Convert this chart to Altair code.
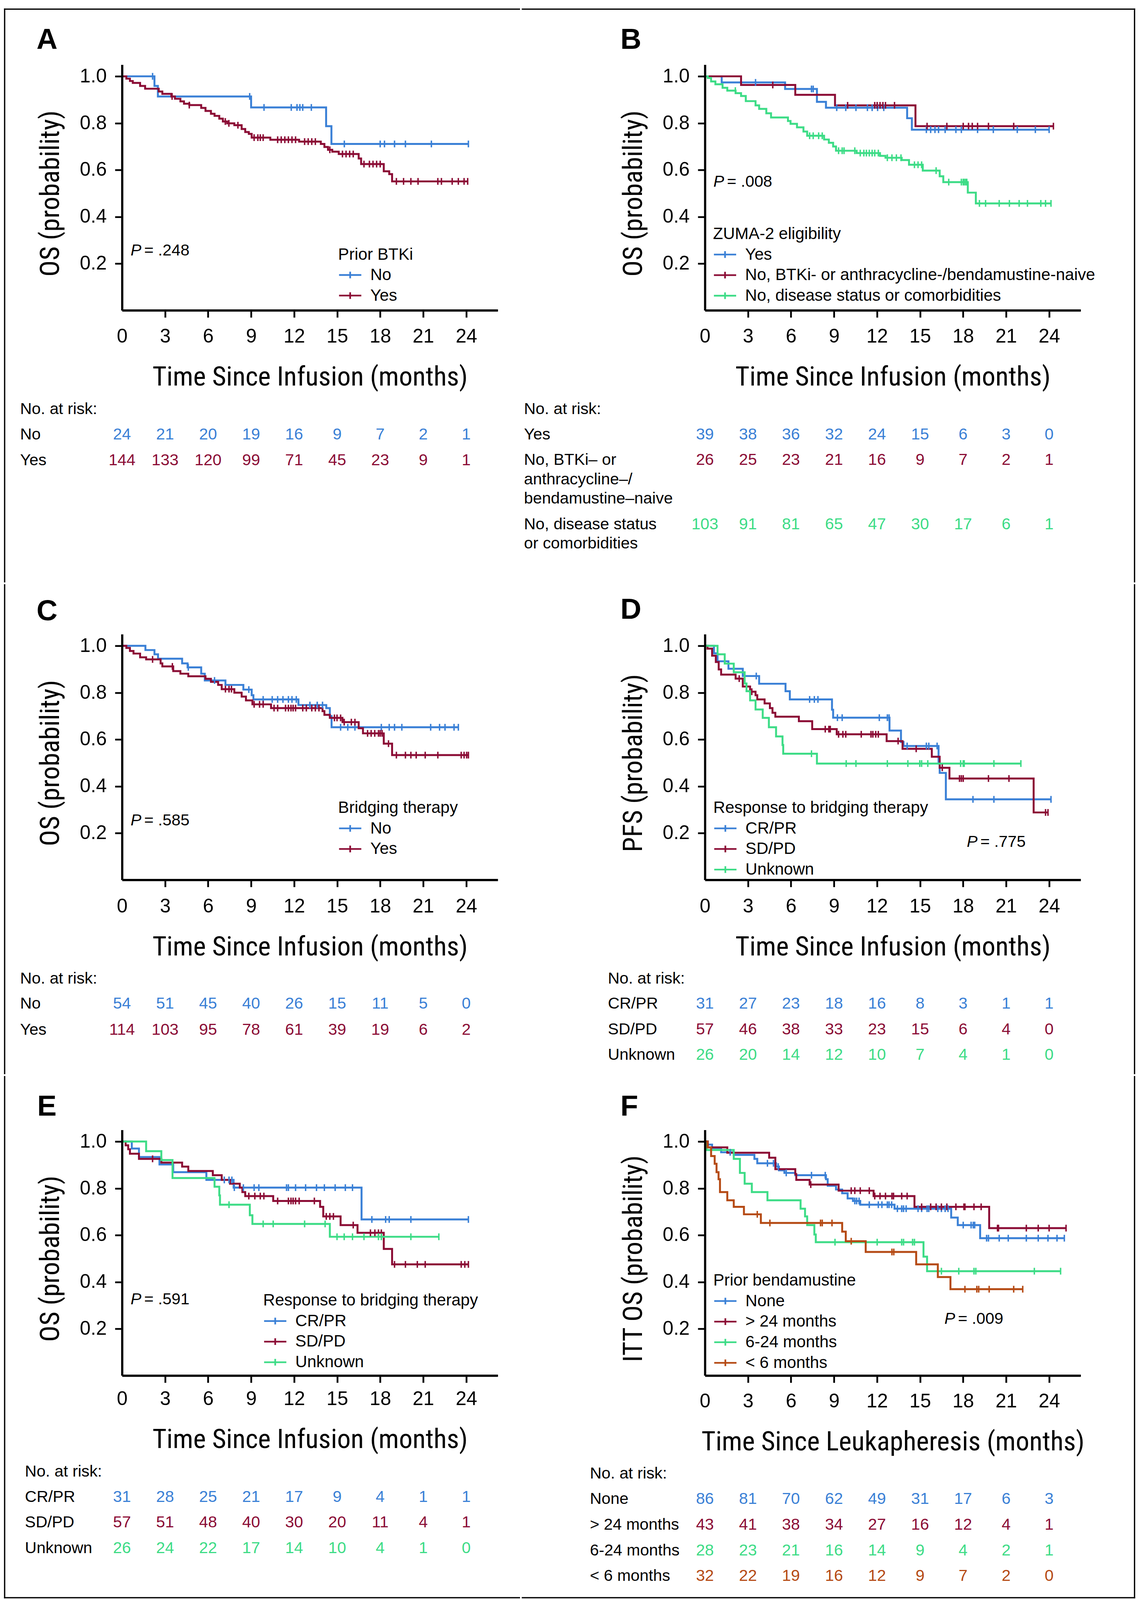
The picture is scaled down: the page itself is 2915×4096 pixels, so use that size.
import altair as alt
import pandas as pd

S = 0.830            # output px per reference px
W, H = 1165, 762     # plot area in reference px
XMAX, YMAX = 26.2, 1.05

BLUE, RED, GREEN, ORANGE = "#3a80d6", "#8b0c35", "#3ddc86", "#b54a14"
SANS = "Liberation Sans"
TFONT = "'Roboto Condensed', 'Liberation Sans'"
TFS = 84            # axis-title font size (reference px)
RFS = 50            # risk-table font size
LFS = 51            # legend font size

MONTHS = [0, 3, 6, 9, 12, 15, 18, 21, 24]
Y_TICKS = [0.2, 0.4, 0.6, 0.8, 1.0]

# ---------------- Panel A : prior BTKi ----------------
A_NO_T = [2.26, 2.50, 9.00, 14.23, 14.60]
A_NO_S = [0.959, 0.914, 0.867, 0.787, 0.711]
A_NO_C = [2.13, 8.90, 9.90, 11.80, 12.20, 12.40, 12.60, 13.20, 15.50, 18.00, 18.30, 19.00, 19.76, 21.57, 24.15]
A_YES_T = [0.30, 0.55, 0.75, 1.26, 1.61, 2.56, 2.81, 3.44, 3.69, 4.07, 4.32, 4.69, 5.52, 5.82, 6.20, 6.45, 6.78, 7.03,
           7.33, 7.83, 8.34, 8.59, 8.84, 9.04, 10.34, 12.35, 13.86, 14.11, 14.36, 14.66, 15.11, 16.50, 16.67, 18.25, 18.63, 18.83]
A_YES_S = [0.990, 0.980, 0.972, 0.959, 0.947, 0.935, 0.925, 0.914, 0.904, 0.893, 0.883, 0.877, 0.865, 0.852, 0.840, 0.831,
           0.819, 0.807, 0.799, 0.791, 0.775, 0.762, 0.754, 0.738, 0.729, 0.721, 0.711, 0.698, 0.686, 0.678, 0.668, 0.649,
           0.625, 0.594, 0.582, 0.551]
A_YES_C = [3.49, 4.69, 7.20, 7.45, 8.08, 9.21, 9.47, 9.64, 9.84, 10.85, 11.10, 11.35, 11.60, 11.85, 12.10, 12.73, 12.98,
           13.23, 13.48, 14.49, 15.37, 15.62, 15.87, 16.12, 16.87, 17.25, 17.50, 17.75, 18.00, 19.13, 19.63, 20.14, 20.64,
           22.02, 22.27, 23.02, 23.45, 23.85, 24.10]
A_RISK_NO = [24, 21, 20, 19, 16, 9, 7, 2, 1]
A_RISK_YES = [144, 133, 120, 99, 71, 45, 23, 9, 1]

# ---------------- Panel B : ZUMA-2 eligibility ----------------
B_YES_T = [1.17, 5.59, 7.81, 8.44, 14.10, 14.43]
B_YES_S = [0.974, 0.946, 0.891, 0.866, 0.821, 0.772]
B_YES_C = [3.53, 7.43, 7.55, 9.19, 9.82, 10.53, 11.33, 11.66, 12.04, 12.47, 15.44, 15.74, 16.04, 16.29, 16.75, 17.50,
           17.88, 19.01, 20.11, 21.78, 23.04, 24.00]
B_NOB_T = [2.52, 6.30, 9.07, 14.68]
B_NOB_S = [0.963, 0.921, 0.876, 0.787]
B_NOB_C = [4.73, 9.95, 11.84, 12.01, 12.21, 12.41, 12.59, 13.22, 15.49, 16.87, 18.01, 18.38, 18.64, 19.01, 19.77, 21.53, 24.30]
B_NOD_T = [0.20, 0.43, 0.73, 1.23, 1.56, 2.14, 2.52, 2.85, 3.53, 3.78, 4.28, 4.61, 5.79, 5.97, 6.42, 6.87, 7.13, 8.31,
           8.64, 8.94, 9.14, 10.58, 12.21, 12.59, 13.72, 14.23, 15.19, 16.37, 16.62, 18.33, 18.89]
B_NOD_S = [0.993, 0.978, 0.966, 0.951, 0.939, 0.928, 0.916, 0.894, 0.876, 0.861, 0.842, 0.824, 0.809, 0.797, 0.782,
           0.764, 0.746, 0.730, 0.716, 0.700, 0.682, 0.672, 0.660, 0.652, 0.642, 0.622, 0.597, 0.573, 0.548, 0.503, 0.457]
B_NOD_C = [2.12, 7.30, 7.55, 7.93, 8.18, 9.32, 9.57, 9.70, 10.45, 10.83, 11.08, 11.26, 11.46, 11.66, 11.84, 12.09, 12.72,
           13.04, 13.35, 13.67, 14.61, 14.86, 15.11, 16.12, 17.00, 17.88, 18.01, 18.08, 18.18, 18.26, 19.14, 19.57, 20.52,
           21.23, 21.91, 22.49, 23.42, 23.75, 24.13]
B_RISK_YES = [39, 38, 36, 32, 24, 15, 6, 3, 0]
B_RISK_NOB = [26, 25, 23, 21, 16, 9, 7, 2, 1]
B_RISK_NOD = [103, 91, 81, 65, 47, 30, 17, 6, 1]

# ---------------- Panel C : bridging therapy ----------------
C_NO_T = [1.63, 2.26, 2.51, 4.19, 4.57, 5.52, 5.77, 7.21, 8.46, 9.04, 9.16, 12.30, 14.24, 14.49, 14.61]
C_NO_S = [0.982, 0.964, 0.945, 0.925, 0.908, 0.881, 0.852, 0.833, 0.813, 0.789, 0.771, 0.747, 0.734, 0.700, 0.652]
C_NO_C = [4.62, 6.45, 8.84, 9.84, 10.47, 10.85, 11.22, 11.60, 11.85, 12.15, 13.10, 13.61, 13.98, 15.24, 15.74, 16.24,
          18.08, 18.63, 19.00, 19.51, 21.52, 22.14, 22.52, 23.15, 23.45]
C_YES_T = [0.30, 0.55, 0.80, 1.26, 1.68, 2.69, 2.81, 3.57, 4.07, 4.62, 5.82, 6.20, 6.70, 6.95, 7.83, 8.34, 8.64, 9.09,
           10.39, 13.98, 14.11, 14.49, 15.37, 16.50, 16.80, 18.25, 18.83]
C_YES_S = [0.991, 0.978, 0.967, 0.951, 0.942, 0.925, 0.912, 0.892, 0.881, 0.870, 0.859, 0.846, 0.833, 0.815, 0.800,
           0.783, 0.767, 0.750, 0.734, 0.721, 0.705, 0.692, 0.674, 0.648, 0.626, 0.582, 0.533]
C_YES_C = [2.13, 3.51, 7.21, 7.46, 7.63, 9.21, 9.59, 9.84, 10.60, 10.85, 11.40, 11.60, 11.78, 11.93, 12.10, 12.60, 12.85,
           13.23, 13.48, 13.73, 14.81, 14.99, 15.24, 15.49, 15.99, 16.24, 17.12, 17.37, 17.62, 17.88, 18.00, 18.13, 18.58,
           19.13, 19.76, 20.14, 20.51, 21.14, 22.02, 23.65, 23.85, 24.03, 24.15]
C_RISK_NO = [54, 51, 45, 40, 26, 15, 11, 5, 0]
C_RISK_YES = [114, 103, 95, 78, 61, 39, 19, 6, 2]

# ---------------- Panel D : PFS by response to bridging ----------------
D_CR_T = [0.63, 0.88, 1.64, 2.64, 3.78, 5.62, 5.92, 8.86, 8.94, 12.87, 13.67, 13.85, 16.29, 16.37, 16.80]
D_CR_S = [0.968, 0.934, 0.902, 0.871, 0.838, 0.806, 0.771, 0.727, 0.693, 0.638, 0.589, 0.572, 0.497, 0.457, 0.344]
D_CR_C = [3.58, 7.30, 7.63, 7.88, 9.24, 9.57, 12.16, 12.72, 12.84, 14.10, 15.44, 15.61, 16.19, 18.69, 20.15, 24.13]
D_SD_T = [0.18, 0.50, 0.76, 0.96, 1.13, 2.14, 2.64, 3.15, 3.53, 3.65, 4.16, 4.53, 4.71, 4.91, 6.55, 7.48, 9.19, 12.67,
          13.78, 15.82, 16.37, 17.05, 22.92]
D_SD_S = [0.988, 0.958, 0.931, 0.899, 0.877, 0.860, 0.826, 0.804, 0.789, 0.771, 0.754, 0.734, 0.714, 0.697, 0.678, 0.644,
          0.622, 0.593, 0.560, 0.526, 0.479, 0.433, 0.288]
D_SD_C = [2.39, 3.27, 8.39, 8.64, 8.74, 9.32, 9.62, 9.82, 10.90, 11.58, 11.71, 11.91, 12.09, 13.47, 14.73, 16.55, 17.75,
          17.88, 18.01, 19.77, 21.20, 23.75, 23.92]
D_UN_T = [0.88, 1.38, 2.01, 2.77, 2.90, 3.15, 3.53, 4.03, 4.46, 4.96, 5.41, 5.46, 7.81]
D_UN_S = [0.964, 0.924, 0.887, 0.839, 0.806, 0.767, 0.728, 0.692, 0.652, 0.613, 0.576, 0.539, 0.497]
D_UN_C = [7.43, 9.85, 10.53, 12.72, 14.15, 14.98, 15.11, 15.54, 17.83, 18.01, 18.08, 20.15, 22.03]
D_RISK_CR = [31, 27, 23, 18, 16, 8, 3, 1, 1]
D_RISK_SD = [57, 46, 38, 33, 23, 15, 6, 4, 0]
D_RISK_UN = [26, 20, 14, 12, 10, 7, 4, 1, 0]

# ---------------- Panel E : OS by response to bridging ----------------
E_CR_T = [0.68, 1.18, 2.61, 3.57, 5.88, 7.78, 16.70]
E_CR_S = [0.970, 0.934, 0.902, 0.869, 0.836, 0.803, 0.667]
E_CR_C = [7.13, 7.46, 7.66, 7.83, 8.46, 9.21, 9.54, 11.47, 11.60, 12.10, 12.80, 13.56, 14.11, 14.86, 15.57, 16.07, 17.42,
          18.38, 18.63, 20.14, 24.15]
E_SD_T = [0.25, 0.43, 0.55, 1.18, 2.74, 4.19, 4.62, 6.33, 6.95, 7.53, 8.21, 8.39, 8.59, 10.54, 13.81, 14.03, 15.24,
          16.42, 18.25, 18.83]
E_SD_S = [0.984, 0.967, 0.948, 0.926, 0.910, 0.893, 0.874, 0.856, 0.836, 0.820, 0.803, 0.784, 0.767, 0.746, 0.721, 0.680,
          0.643, 0.610, 0.541, 0.475]
E_SD_C = [2.13, 8.84, 9.26, 9.64, 9.89, 10.85, 11.60, 11.78, 11.93, 12.10, 12.35, 13.41, 14.24, 14.49, 14.74, 16.12,
          17.32, 17.63, 17.88, 18.08, 19.00, 19.76, 20.59, 21.14, 23.65, 23.90, 24.15]
E_UN_T = [1.68, 2.74, 3.52, 6.45, 6.78, 6.83, 8.91, 9.09, 14.49]
E_UN_S = [0.959, 0.921, 0.844, 0.807, 0.770, 0.730, 0.685, 0.648, 0.593]
E_UN_C = [7.46, 9.84, 10.54, 12.73, 14.16, 14.99, 15.49, 16.07, 16.87, 17.88, 18.08, 20.14, 22.09]
E_RISK_CR = [31, 28, 25, 21, 17, 9, 4, 1, 1]
E_RISK_SD = [57, 51, 48, 40, 30, 20, 11, 4, 1]
E_RISK_UN = [26, 24, 22, 17, 14, 10, 4, 1, 0]

# ---------------- Panel F : ITT OS by prior bendamustine ----------------
F_NONE_T = [0.20, 0.50, 1.13, 2.01, 3.45, 3.65, 4.96, 5.16, 5.54, 6.30, 8.44, 8.56, 9.14, 9.57, 9.95, 10.32, 10.83,
            13.22, 17.17, 17.63, 19.19]
F_NONE_S = [0.987, 0.972, 0.954, 0.943, 0.926, 0.907, 0.893, 0.877, 0.866, 0.856, 0.839, 0.811, 0.795, 0.779, 0.757,
            0.746, 0.730, 0.713, 0.675, 0.643, 0.587]
F_NONE_C = [1.76, 4.36, 4.78, 5.11, 5.67, 7.43, 8.39, 10.45, 10.58, 10.75, 11.46, 12.09, 12.34, 12.72, 12.84, 13.02,
            13.42, 13.72, 13.85, 14.03, 14.86, 15.11, 15.49, 15.61, 16.24, 16.49, 16.75, 16.95, 18.01, 18.56, 18.71,
            18.81, 19.64, 19.77, 20.52, 21.15, 22.41, 23.24, 23.92, 24.55, 25.06]
F_GT24_T = [0.20, 1.56, 4.48, 4.91, 6.30, 6.37, 7.30, 9.32, 11.76, 14.61, 19.82]
F_GT24_S = [0.975, 0.952, 0.931, 0.882, 0.861, 0.836, 0.816, 0.790, 0.767, 0.721, 0.630]
F_GT24_C = [7.38, 10.20, 10.45, 10.83, 11.46, 11.84, 12.21, 12.59, 13.04, 13.15, 13.72, 14.10, 15.11, 15.74, 16.12,
            16.49, 16.87, 17.50, 18.06, 18.13, 18.76, 19.26, 20.40, 20.47, 22.41, 23.24, 24.00, 25.18]
F_MID_T = [0.13, 2.01, 2.44, 2.77, 3.27, 4.36, 6.67, 6.98, 7.13, 7.63, 7.73, 15.24, 15.49]
F_MID_S = [0.964, 0.926, 0.866, 0.820, 0.784, 0.749, 0.713, 0.680, 0.643, 0.603, 0.570, 0.508, 0.446]
F_MID_C = [9.07, 12.01, 13.72, 13.85, 14.48, 14.61, 16.49, 17.70, 18.76, 18.89, 22.97, 24.80]
F_LT6_T = [0.18, 0.43, 0.68, 0.81, 0.95, 1.05, 1.56, 2.01, 2.72, 3.90, 9.57, 9.82, 11.21, 14.73, 16.24, 17.12]
F_LT6_S = [0.975, 0.938, 0.905, 0.869, 0.839, 0.784, 0.749, 0.721, 0.689, 0.652, 0.615, 0.574, 0.528, 0.475, 0.421, 0.369]
F_LT6_C = [3.65, 4.53, 8.06, 8.18, 8.86, 10.20, 13.04, 13.17, 18.13, 18.96, 19.09, 19.82, 21.53, 22.16]
F_RISK_NONE = [86, 81, 70, 62, 49, 31, 17, 6, 3]
F_RISK_GT24 = [43, 41, 38, 34, 27, 16, 12, 4, 1]
F_RISK_MID = [28, 23, 21, 16, 14, 9, 4, 2, 1]
F_RISK_LT6 = [32, 22, 19, 16, 12, 9, 7, 2, 0]


def pt(v):
    return v * S


def ybase(center, fs):
    return pt(center + 0.358 * fs)


XS = alt.Scale(domain=[0, XMAX], nice=False, zero=False)
YS = alt.Scale(domain=[0, YMAX], nice=False, zero=False)
LINE_W = 6.0     # reference px
AXIS_W = 6.8


def x_axis(title, lab_c, title_c):
    return alt.Axis(values=MONTHS, title=title, grid=False, domainColor="black", domainWidth=pt(AXIS_W),
                    tickColor="black", tickWidth=pt(5.5), tickSize=pt(22),
                    tickOpacity={"condition": {"test": "datum.value === 0", "value": 0}, "value": 1},
                    labelFont=SANS, labelFontSize=pt(60),
                    labelColor="black", labelBaseline="alphabetic", labelPadding=pt(lab_c + 0.358 * 60 - 22),
                    labelFlush=False, labelOverlap=False, titleFont=TFONT, titleFontSize=pt(TFS),
                    titleFontWeight="normal", titleColor="black", titleBaseline="alphabetic",
                    titleY=pt(title_c + 0.355 * TFS), titleX=pt(W / 2), titleAlign="center", titleLimit=4000,
                    zindex=1)


def y_axis(title):
    return alt.Axis(values=Y_TICKS, format=".1f", title=title, grid=False, domainColor="black", domainWidth=pt(AXIS_W),
                    tickColor="black", tickWidth=pt(5.5), tickSize=pt(22), labelFont=SANS, labelFontSize=pt(60),
                    labelColor="black", labelPadding=pt(26), labelBaseline="middle", labelAlign="right",
                    labelFlush=False, labelOverlap=False, titleFont=TFONT, titleFontSize=pt(TFS),
                    titleFontWeight="normal", titleColor="black", titleBaseline="alphabetic",
                    titleX=pt(-196), titleY=pt(H - 0.5 * H / YMAX), titleAlign="center", titleLimit=4000,
                    zindex=1)


def km_tables(series):
    lines, cens = [], []
    for name, times, surv, cen in series:
        end = max([times[-1]] + cen)
        pts = [(0.0, 1.0)] + list(zip(times, surv)) + [(end, surv[-1])]
        for i, (t, v) in enumerate(pts):
            lines.append({"grp": name, "t": t, "s": v, "i": i})
        for c in cen:
            v = 1.0
            for ti, si in zip(times, surv):
                if ti <= c:
                    v = si
            cens.append({"grp": name, "t": c, "s": v})
    return pd.DataFrame(lines), pd.DataFrame(cens)


def panel(cfg):
    X = alt.X("t:Q", scale=XS, axis=x_axis(cfg["xtitle"], cfg["xlab"], cfg["xtc"]))
    Y = alt.Y("s:Q", scale=YS, axis=y_axis(cfg["ytitle"]))
    names = [s[0] for s in cfg["series"]]
    cscale = alt.Scale(domain=names, range=cfg["colors"])
    lines, cens = km_tables(cfg["series"])
    lx, lcy = cfg["legend_pos"]          # symbol left, title centre (reference px, plot-relative)
    legend = alt.Legend(orient="none", legendX=pt(lx), legendY=pt(lcy) - 0.432 * pt(LFS), title=cfg["legend_title"],
                        titleFont=SANS, titleFontSize=pt(LFS), titleFontWeight="normal", titleColor="black",
                        titleLimit=4000, titlePadding=-0.7, labelFont=SANS, labelFontSize=pt(LFS),
                        labelColor="black", labelLimit=4000, labelOffset=pt(25),
                        symbolType="M-1,0H1M0,-0.3V0.3", symbolSize=pt(69) ** 2, symbolStrokeWidth=pt(5.2),
                        rowPadding=-10.3, padding=0, offset=0, direction="vertical")
    one = pd.DataFrame({"k": [0]})
    L, R, T, B = cfg["frame"]
    layers = [alt.Chart(one).mark_rect(color="white").encode(
        x=alt.value(-pt(L)), x2=alt.value(pt(W + R)), y=alt.value(-pt(T)), y2=alt.value(pt(H + B)))]
    bw = pt(4)
    for side in cfg["borders"]:
        if side == "left":
            enc = dict(x=alt.value(-pt(L) + bw / 2), y=alt.value(-pt(T)), y2=alt.value(pt(H + B)))
        elif side == "right":
            enc = dict(x=alt.value(pt(W + R) - bw / 2), y=alt.value(-pt(T)), y2=alt.value(pt(H + B)))
        elif side == "top":
            enc = dict(y=alt.value(-pt(T) + bw / 2), x=alt.value(-pt(L)), x2=alt.value(pt(W + R)))
        else:
            enc = dict(y=alt.value(pt(H + B) - bw / 2), x=alt.value(-pt(L)), x2=alt.value(pt(W + R)))
        layers.append(alt.Chart(one).mark_rule(color="black", strokeWidth=bw).encode(**enc))

    layers.append(alt.Chart(lines).mark_line(interpolate="step-after", strokeWidth=pt(LINE_W)).encode(
        x=X, y=Y, color=alt.Color("grp:N", scale=cscale, legend=legend), order="i:Q"))
    layers.append(alt.Chart(cens).mark_point(shape="M0,-1V1", size=pt(21) ** 2, filled=False,
                                             strokeWidth=pt(4.5), opacity=1).encode(
        x=X, y=Y, color=alt.Color("grp:N", scale=cscale, legend=None)))

    # P value
    pt_t, pt_v, ptxt = cfg["pval"]
    pdf = pd.DataFrame({"t": [pt_t], "s": [pt_v]})
    layers.append(alt.Chart(pdf).mark_text(text="P", font=SANS, fontStyle="italic", fontSize=pt(50),
                                           align="left", baseline="middle", color="black").encode(x=X, y=Y))
    layers.append(alt.Chart(pdf).mark_text(text="= " + ptxt, font=SANS, fontSize=pt(50), align="left",
                                           baseline="middle", color="black", dx=pt(42)).encode(x=X, y=Y))
    # panel letter
    lx_, ly_ = cfg["letter_pos"]
    layers.append(alt.Chart(one).mark_text(text=cfg["letter"], font=SANS, fontWeight="bold", fontSize=pt(90),
                                           align="left", baseline="alphabetic", color="black").encode(
        x=alt.value(pt(lx_)), y=alt.value(pt(ly_))))
    # risk table
    rlx = cfg["risk_x"]
    layers.append(alt.Chart(one).mark_text(text="No. at risk:", font=SANS, fontSize=pt(RFS), align="left",
                                           baseline="alphabetic", color="black").encode(
        x=alt.value(pt(rlx)), y=alt.value(ybase(H + cfg["risk_hdr"], RFS))))
    for (label, counts, color), ry in zip(cfg["risk_rows"], cfg["risk_y"]):
        yb = ybase(H + ry, RFS)
        layers.append(alt.Chart(one).mark_text(text=label, font=SANS, fontSize=pt(RFS), align="left",
                                               baseline="alphabetic", color="black", lineBreak="\n",
                                               lineHeight=pt(60)).encode(x=alt.value(pt(rlx)), y=alt.value(yb)))
        df = pd.DataFrame({"t": MONTHS, "n": [str(c) for c in counts]})
        layers.append(alt.Chart(df).mark_text(font=SANS, fontSize=pt(RFS), color=color, align="center",
                                              baseline="alphabetic").encode(x=X, y=alt.value(yb), text="n:N"))
    return alt.layer(*layers).properties(width=pt(W), height=pt(H))


COL1 = (366, 69)
COL2 = (568, 169)
ROW1 = (174, 844)
ROW2 = (155, 603)
ROW3 = (167, 691)

X_TITLE = "Time Since Infusion (months)"
RESP = ["CR/PR", "SD/PD", "Unknown"]

cfgA = dict(letter="A", frame=(COL1[0], COL1[1], ROW1[0], ROW1[1]), borders=["left", "top"],
            series=[("No", A_NO_T, A_NO_S, A_NO_C), ("Yes", A_YES_T, A_YES_S, A_YES_C)],
            colors=[BLUE, RED], legend_title="Prior BTKi", legend_pos=(670, 587),
            ytitle="OS (probability)", xtitle=X_TITLE, xlab=78, xtc=203, pval=(0.6, 0.255, ".248"),
            letter_pos=(-265, -49), risk_x=-316, risk_hdr=304,
            risk_rows=[("No", A_RISK_NO, BLUE), ("Yes", A_RISK_YES, RED)], risk_y=[382, 462])

cfgB = dict(letter="B", frame=(COL2[0], COL2[1], ROW1[0], ROW1[1]), borders=["right", "top"],
            series=[("Yes", B_YES_T, B_YES_S, B_YES_C),
                    ("No, BTKi- or anthracycline-/bendamustine-naive", B_NOB_T, B_NOB_S, B_NOB_C),
                    ("No, disease status or comorbidities", B_NOD_T, B_NOD_S, B_NOD_C)],
            colors=[BLUE, RED, GREEN], legend_title="ZUMA-2 eligibility", legend_pos=(25, 523.5),
            ytitle="OS (probability)", xtitle=X_TITLE, xlab=78, xtc=203, pval=(0.59, 0.548, ".008"),
            letter_pos=(-262, -49), risk_x=-561, risk_hdr=304,
            risk_rows=[("Yes", B_RISK_YES, BLUE),
                       ("No, BTKi\u2013 or\nanthracycline\u2013/\nbendamustine\u2013naive", B_RISK_NOB, RED),
                       ("No, disease status\nor comorbidities", B_RISK_NOD, GREEN)],
            risk_y=[382, 461.5, 661])

cfgC = dict(letter="C", frame=(COL1[0], COL1[1], ROW2[0], ROW2[1]), borders=["left"],
            series=[("No", C_NO_T, C_NO_S, C_NO_C), ("Yes", C_YES_T, C_YES_S, C_YES_C)],
            colors=[BLUE, RED], legend_title="Bridging therapy", legend_pos=(670, 537),
            ytitle="OS (probability)", xtitle=X_TITLE, xlab=79, xtc=204, pval=(0.6, 0.252, ".585"),
            letter_pos=(-265, -43), risk_x=-316, risk_hdr=304,
            risk_rows=[("No", C_RISK_NO, BLUE), ("Yes", C_RISK_YES, RED)], risk_y=[382, 462])

cfgD = dict(letter="D", frame=(COL2[0], COL2[1], ROW2[0], ROW2[1]), borders=["right"],
            series=[(RESP[0], D_CR_T, D_CR_S, D_CR_C), (RESP[1], D_SD_T, D_SD_S, D_SD_C),
                    (RESP[2], D_UN_T, D_UN_S, D_UN_C)],
            colors=[BLUE, RED, GREEN], legend_title="Response to bridging therapy", legend_pos=(26, 537),
            ytitle="PFS (probability)", xtitle=X_TITLE, xlab=79, xtc=204, pval=(18.26, 0.161, ".775"),
            letter_pos=(-262, -48), risk_x=-301, risk_hdr=304,
            risk_rows=[(RESP[0], D_RISK_CR, BLUE), (RESP[1], D_RISK_SD, RED), (RESP[2], D_RISK_UN, GREEN)],
            risk_y=[382, 461.5, 540])

cfgE = dict(letter="E", frame=(COL1[0], COL1[1], ROW3[0], ROW3[1]), borders=["left", "bottom"],
            series=[(RESP[0], E_CR_T, E_CR_S, E_CR_C), (RESP[1], E_SD_T, E_SD_S, E_SD_C),
                    (RESP[2], E_UN_T, E_UN_S, E_UN_C)],
            colors=[BLUE, RED, GREEN], legend_title="Response to bridging therapy", legend_pos=(437.6, 527.5),
            ytitle="OS (probability)", xtitle=X_TITLE, xlab=70, xtc=195, pval=(0.6, 0.325, ".591"),
            letter_pos=(-263, -44), risk_x=-301, risk_hdr=296,
            risk_rows=[(RESP[0], E_RISK_CR, BLUE), (RESP[1], E_RISK_SD, RED), (RESP[2], E_RISK_UN, GREEN)],
            risk_y=[374, 453, 533])

cfgF = dict(letter="F", frame=(COL2[0], COL2[1], ROW3[0], ROW3[1]), borders=["right", "bottom"],
            series=[("None", F_NONE_T, F_NONE_S, F_NONE_C), ("> 24 months", F_GT24_T, F_GT24_S, F_GT24_C),
                    ("6-24 months", F_MID_T, F_MID_S, F_MID_C), ("< 6 months", F_LT6_T, F_LT6_S, F_LT6_C)],
            colors=[BLUE, RED, GREEN, ORANGE], legend_title="Prior bendamustine", legend_pos=(26, 465.5),
            ytitle="ITT OS (probability)", xtitle="Time Since Leukapheresis (months)", xlab=77, xtc=202,
            pval=(16.70, 0.241, ".009"), letter_pos=(-262, -44), risk_x=-356.6, risk_hdr=301,
            risk_rows=[("None", F_RISK_NONE, BLUE), ("> 24 months", F_RISK_GT24, RED),
                       ("6-24 months", F_RISK_MID, GREEN), ("< 6 months", F_RISK_LT6, ORANGE)],
            risk_y=[380, 460, 540, 619])

chart = alt.concat(
    panel(cfgA), panel(cfgB), panel(cfgC), panel(cfgD), panel(cfgE), panel(cfgF),
    columns=2, spacing=0, align="each", bounds="full"
).resolve_scale(
    x="independent", y="independent", color="independent"
).resolve_legend(color="independent").properties(
    padding=0, background="white"
).configure_view(strokeWidth=0)

chart.save("out.html", embed_options={"renderer": "svg", "actions": False})
